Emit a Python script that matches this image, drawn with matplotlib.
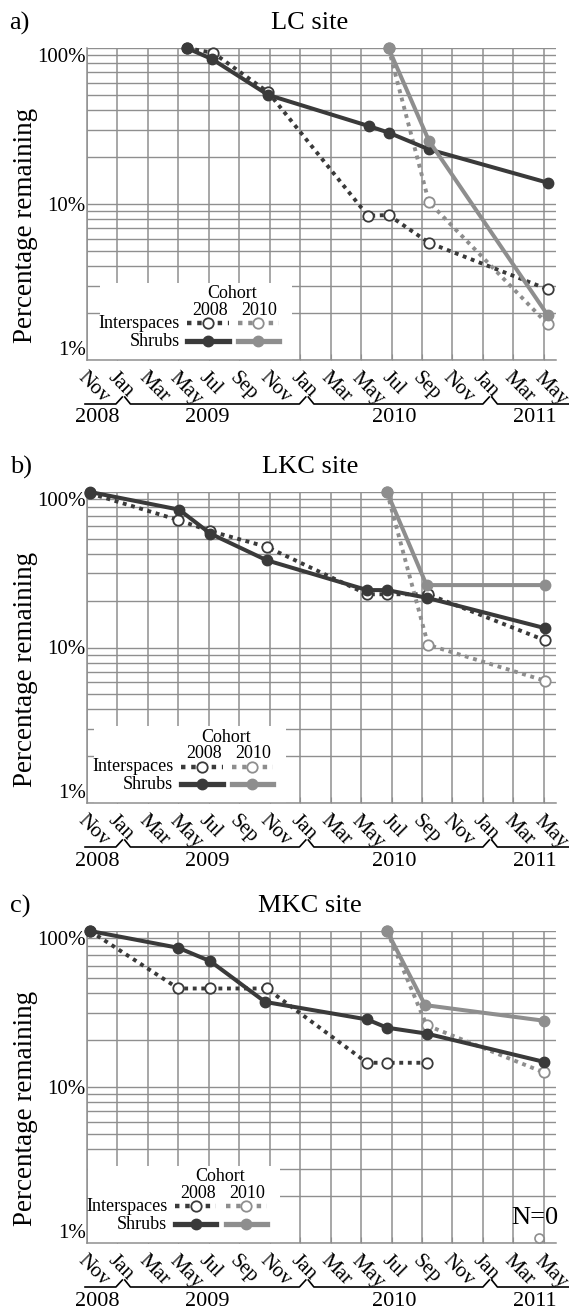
import matplotlib
matplotlib.use('Agg')
import matplotlib.pyplot as plt
from matplotlib.patches import Rectangle
from matplotlib.lines import Line2D
from matplotlib.ticker import LogLocator, NullFormatter, FixedLocator

plt.rcParams['font.family'] = ['Liberation Serif', 'DejaVu Serif']

# ---------------- data (x = months since 1 Nov 2008) ----------------
month_ticks = list(range(0, 31, 2))
month_labels = ['Nov', 'Jan', 'Mar', 'May', 'Jul', 'Sep', 'Nov', 'Jan',
                'Mar', 'May', 'Jul', 'Sep', 'Nov', 'Jan', 'Mar', 'May']
years = ['2008', '2009', '2010', '2011']
year_label_x = [0.65, 7.9, 20.2, 29.4]
year_breaks = [2.4, 14.45, 26.5]
ytick_vals = [1, 10, 100]
ytick_labels = ['1%', '10%', '100%']

# a) LC site
lc_shrub08_x = [6.55, 8.2, 11.9, 18.5, 19.8, 22.45, 30.25]
lc_shrub08_y = [100, 85, 50, 31.6, 28.7, 22.4, 13.7]
lc_inter08_x = [6.55, 8.3, 11.9, 18.45, 19.8, 22.45, 30.25]
lc_inter08_y = [100, 93, 52, 8.4, 8.5, 5.65, 2.84]
lc_shrub10_x = [19.8, 22.45, 30.25]
lc_shrub10_y = [100, 25.5, 1.94]
lc_inter10_x = [19.8, 22.45, 30.25]
lc_inter10_y = [100, 10.3, 1.70]

# b) LKC site
lkc_shrub08_x = [0.2, 6.05, 8.1, 11.8, 18.4, 19.7, 22.3, 30.1]
lkc_shrub08_y = [100, 77, 54, 36.4, 23.4, 23.4, 20.9, 13.3]
lkc_inter08_x = [0.2, 6.0, 8.1, 11.8, 18.4, 19.7, 22.4, 30.1]
lkc_inter08_y = [98, 66, 56, 44.4, 22, 22, 22, 11.1]
lkc_shrub10_x = [19.7, 22.3, 30.1]
lkc_shrub10_y = [100, 25.2, 25.2]
lkc_inter10_x = [19.7, 22.4, 30.1]
lkc_inter10_y = [100, 10.4, 6.1]

# c) MKC site
mkc_shrub08_x = [0.2, 6.0, 8.1, 11.7, 18.4, 19.7, 22.3, 30.0]
mkc_shrub08_y = [100, 78, 64, 35.1, 27.1, 24.0, 22.0, 14.5]
mkc_inter08_x = [0.2, 6.0, 8.1, 11.8, 18.4, 19.7, 22.3]
mkc_inter08_y = [100, 42.8, 42.8, 42.8, 14.3, 14.3, 14.3]
mkc_shrub10_x = [19.7, 22.2, 30.0]
mkc_shrub10_y = [100, 33.5, 26.6]
mkc_inter10_x = [19.7, 22.3, 30.0]
mkc_inter10_y = [100, 24.9, 12.4]
mkc_n0_x = [29.7]
mkc_n0_y = [1.08]

panels = [
    ('a)', 'LC site', (lc_inter08_x, lc_inter08_y), (lc_inter10_x, lc_inter10_y),
     (lc_shrub08_x, lc_shrub08_y), (lc_shrub10_x, lc_shrub10_y), 0.0),
    ('b)', 'LKC site', (lkc_inter08_x, lkc_inter08_y), (lkc_inter10_x, lkc_inter10_y),
     (lkc_shrub08_x, lkc_shrub08_y), (lkc_shrub10_x, lkc_shrub10_y), -0.013),
    ('c)', 'MKC site', (mkc_inter08_x, mkc_inter08_y), (mkc_inter10_x, mkc_inter10_y),
     (mkc_shrub08_x, mkc_shrub08_y), (mkc_shrub10_x, mkc_shrub10_y), -0.026),
]

# ---------------- style ----------------
DARK = '#3a3a3a'
GRAY = '#8e8e8e'
GRID = '#8f8f8f'
W, H = 569, 1312
fig = plt.figure(figsize=(W / 100, H / 100), dpi=100)

axes_px = [(48, 360), (492, 803), (931, 1243)]
left_px, right_px = 87, 556


def dotted(color):
    return dict(color=color, lw=2.8, linestyle=(0, (1, 1.2)), dash_capstyle='butt')


for (letter, title, i08, i10, s08, s10, ldx), (top, bot) in zip(panels, axes_px):
    ax = fig.add_axes([left_px / W, 1 - bot / H, (right_px - left_px) / W, (bot - top) / H])
    ax.set_yscale('log')
    ax.set_ylim(1, 100)
    ax.set_xlim(0, 30.8)
    ax.set_axisbelow(True)
    for s in ['top', 'right']:
        ax.spines[s].set_visible(False)
    for s in ['left', 'bottom']:
        ax.spines[s].set_color(GRID)
        ax.spines[s].set_linewidth(1.1)

    ax.xaxis.set_major_locator(FixedLocator(month_ticks))
    ax.set_xticklabels(month_labels, rotation=-45, ha='left', va='top',
                       rotation_mode='anchor', fontsize=15)
    ax.set_yticks(ytick_vals)
    ax.set_yticklabels(ytick_labels, fontsize=15)
    ax.yaxis.set_minor_locator(LogLocator(base=10, subs=range(2, 10)))
    ax.yaxis.set_minor_formatter(NullFormatter())
    ytl = ax.get_yticklabels()
    ytl[0].set_va('bottom')
    ytl[2].set_va('top')
    ax.tick_params(axis='y', which='both', length=0, pad=1)
    ax.tick_params(axis='x', length=4, direction='in', color=GRID, pad=6)
    ax.grid(True, which='both', axis='y', color=GRID, lw=1.0)
    ax.grid(True, which='major', axis='x', color=GRID, lw=1.1)

    h = bot - top
    # title, letter, y label
    ax.text(0.475, 1 + 25 / h, title, transform=ax.transAxes, ha='center',
            va='center', fontsize=19)
    ax.text(-0.165, 1 + 25 / h, letter, transform=ax.transAxes, ha='left',
            va='center', fontsize=19)
    ax.text(-0.132, 0.43, 'Percentage remaining', transform=ax.transAxes,
            rotation=90, ha='center', va='center', fontsize=19.5)

    # data
    ax.plot(*i08, **dotted(DARK), marker='o', ms=7.5, mfc='white', mec=DARK,
            mew=1.3, zorder=3, clip_on=False)
    ax.plot(*i10, **dotted(GRAY), marker='o', ms=7.5, mfc='white', mec=GRAY,
            mew=1.3, zorder=3, clip_on=False)
    ax.plot(*s08, color=DARK, lw=2.9, marker='o', ms=7.5, zorder=4, clip_on=False)
    ax.plot(*s10, color=GRAY, lw=2.9, marker='o', ms=7.5, zorder=4, clip_on=False)

    # legend box
    ax.add_patch(Rectangle((0.028 + ldx, 0), 0.41, 0.247, transform=ax.transAxes,
                           facecolor='white', edgecolor='none', zorder=1))
    tr = ax.transAxes
    ax.text(0.31 + ldx, 0.212, 'Cohort', transform=tr, ha='center', va='center', fontsize=13)
    ax.text(0.263 + ldx, 0.158, '2008', transform=tr, ha='center', va='center', fontsize=13)
    ax.text(0.368 + ldx, 0.158, '2010', transform=tr, ha='center', va='center', fontsize=13)
    ax.text(0.197 + ldx, 0.117, 'Interspaces', transform=tr, ha='right', va='center', fontsize=13)
    ax.text(0.197 + ldx, 0.060, 'Shrubs', transform=tr, ha='right', va='center', fontsize=13)
    for (x0, x1, xm), col in [((0.213, 0.302, 0.258), DARK), ((0.322, 0.41, 0.365), GRAY)]:
        ax.add_line(Line2D([x0 + ldx, x1 + ldx], [0.117, 0.117], transform=tr,
                           color=col, lw=3.2, linestyle=(0, (1, 1.3)), zorder=3))
        ax.add_line(Line2D([xm + ldx], [0.117], transform=tr, marker='o', ms=7.5,
                           mfc='white', mec=col, mew=1.3, zorder=4))
        ax.add_line(Line2D([x0 + ldx, x1 + ldx], [0.060, 0.060], transform=tr,
                           color=col, lw=3.8, zorder=3))
        ax.add_line(Line2D([xm + ldx], [0.060], transform=tr, marker='o', ms=7.5,
                           color=col, zorder=4))

    # year brackets below the month labels
    xt = ax.get_xaxis_transform()
    yflat = -44 / h
    ytop = -37 / h
    starts = [-0.13] + [b + 0.08 for b in year_breaks]
    ends = [b - 0.08 for b in year_breaks] + [31.6]
    for i, yr in enumerate(years):
        xs, ys = [], []
        if i > 0:
            xs += [starts[i], starts[i] + 0.37]
            ys += [ytop, yflat]
        else:
            xs += [starts[i]]
            ys += [yflat]
        if i < len(years) - 1:
            xs += [ends[i] - 0.42, ends[i]]
            ys += [yflat, ytop]
        else:
            xs += [ends[i]]
            ys += [yflat]
        ax.add_line(Line2D(xs, ys, transform=xt, color='black', lw=1.2, clip_on=False))
        ax.text(year_label_x[i], -58 / h, yr, transform=xt, ha='center', va='center',
                fontsize=16)

    if letter == 'c)':
        ax.plot(mkc_n0_x, mkc_n0_y, linestyle='none', marker='o', ms=6.5, mfc='white',
                mec=GRAY, mew=1.2, zorder=4, clip_on=False)
        ax.text(29.4, 1.45, 'N=0', ha='center', va='center', fontsize=19, zorder=5)

fig.savefig('out.png', dpi=100)
